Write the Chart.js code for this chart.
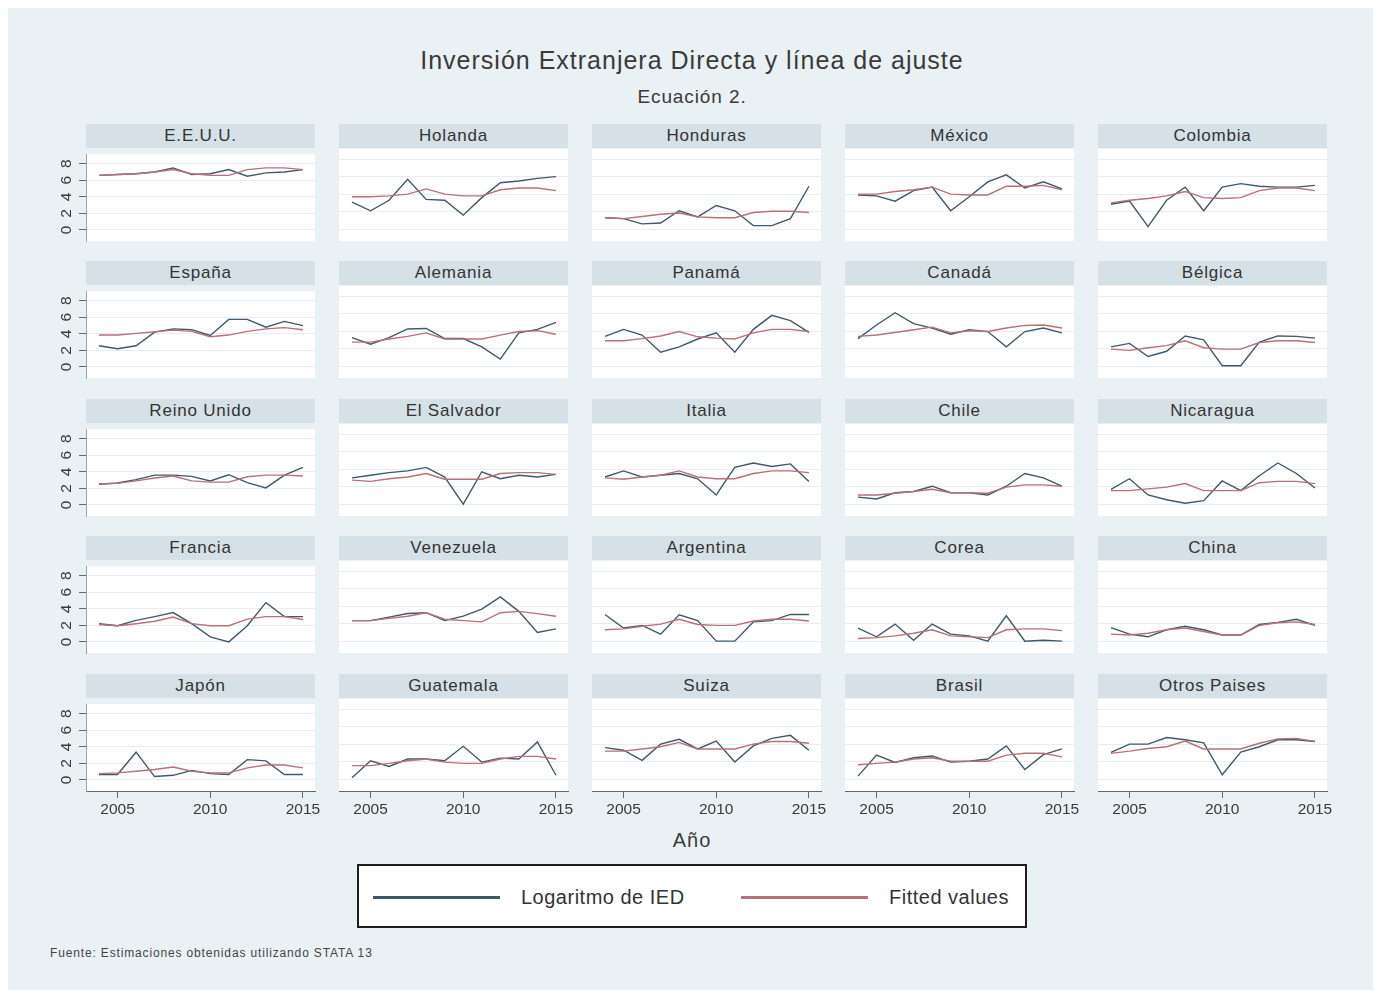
<!DOCTYPE html>
<html>
<head>
<meta charset="utf-8">
<script src="https://cdn.jsdelivr.net/npm/chart.js@4.4.1/dist/chart.umd.min.js"></script>
<style>
  html, body { margin: 0; padding: 0; background: #ffffff; }
  #page { position: relative; width: 1381px; height: 996px; overflow: hidden; background: #ffffff;
          font-family: "Liberation Sans", Arial, sans-serif; }
  #frame { position: absolute; left: 8px; top: 8px; width: 1365px; height: 982px; background: #eaf1f4; }
  .txt { position: absolute; white-space: nowrap; color: #3a3a3a; text-align: center; }
  .hdr { position: absolute; background: #d5e0e7; color: #333; font-size: 17px; letter-spacing: 0.8px;
         text-align: center; line-height: 24px; height: 24px; }
  .panel { position: absolute; }
  #legend { position: absolute; left: 357px; top: 864px; width: 666px; height: 60px;
            border: 2px solid #1e1e1e; background: #ffffff; }
  .lgline { position: absolute; height: 3px; }
  .lgtext { position: absolute; font-size: 20px; letter-spacing: 0.5px; color: #333; line-height: 22px; }
</style>
</head>
<body>
<div id="page">
  <div id="frame"></div>
  <div class="txt" style="left:0;width:1384px;top:45px;font-size:25px;letter-spacing:1px;line-height:30px;">Inversión Extranjera Directa y línea de ajuste</div>
  <div class="txt" style="left:0;width:1384px;top:85px;font-size:19px;letter-spacing:0.9px;line-height:24px;">Ecuación 2.</div>
  <div class="txt" style="left:0;width:1384px;top:828px;font-size:20px;letter-spacing:1px;line-height:24px;">Año</div>
  <div id="legend">
    <div class="lgline" style="left:14px;top:30px;width:127px;background:#3d5a6c;"></div>
    <div class="lgtext" style="left:162px;top:20px;">Logaritmo de IED</div>
    <div class="lgline" style="left:382px;top:30px;width:127px;background:#b8707a;"></div>
    <div class="lgtext" style="left:530px;top:20px;">Fitted values</div>
  </div>
  <div class="txt" style="left:50px;top:946px;font-size:12px;letter-spacing:0.85px;line-height:14px;color:#444;text-align:left;">Fuente: Estimaciones obtenidas utilizando STATA 13</div>
</div>

<script>
// Years and axis ticks shared by every panel
const years = [2004, 2005, 2006, 2007, 2008, 2009, 2010, 2011, 2012, 2013, 2014, 2015];
const xTickValues = [2005, 2010, 2015];
const yTickValues = [0, 2, 4, 6, 8];

// Log of FDI (ied*) and fitted values (fit*) by country, 2004-2015
const iedEEUU = [6.6, 6.7, 6.8, 7.0, 7.5, 6.7, 6.8, 7.3, 6.5, 6.9, 7.0, 7.3];
const fitEEUU = [6.6, 6.7, 6.8, 7.0, 7.3, 6.8, 6.6, 6.6, 7.3, 7.5, 7.5, 7.3];
const iedHolanda = [3.1, 2.1, 3.3, 5.7, 3.4, 3.3, 1.6, 3.6, 5.3, 5.5, 5.8, 6.0];
const fitHolanda = [3.7, 3.7, 3.8, 4.0, 4.6, 4.0, 3.8, 3.8, 4.5, 4.7, 4.7, 4.4];
const iedHonduras = [1.3, 1.2, 0.6, 0.7, 2.1, 1.4, 2.7, 2.1, 0.4, 0.4, 1.2, 4.9];
const fitHonduras = [1.3, 1.2, 1.45, 1.7, 1.85, 1.4, 1.3, 1.3, 1.9, 2.05, 2.05, 1.9];
const iedMexico = [3.9, 3.8, 3.2, 4.4, 4.8, 2.1, 3.7, 5.4, 6.2, 4.7, 5.4, 4.6];
const fitMexico = [4.0, 4.0, 4.3, 4.5, 4.8, 4.0, 3.9, 3.9, 4.9, 4.9, 5.0, 4.5];
const iedColombia = [2.85, 3.2, 0.3, 3.3, 4.8, 2.1, 4.8, 5.2, 4.9, 4.8, 4.8, 5.0];
const fitColombia = [3.0, 3.3, 3.5, 3.8, 4.3, 3.6, 3.5, 3.6, 4.4, 4.7, 4.7, 4.4];
const iedEspana = [2.55, 2.2, 2.55, 4.2, 4.6, 4.5, 3.8, 5.75, 5.75, 4.8, 5.5, 5.0];
const fitEspana = [3.85, 3.85, 4.05, 4.25, 4.45, 4.3, 3.65, 3.85, 4.3, 4.6, 4.75, 4.5];
const iedAlemania = [3.25, 2.5, 3.25, 4.25, 4.3, 3.15, 3.15, 2.2, 0.8, 3.8, 4.2, 5.0];
const fitAlemania = [2.75, 2.75, 3.1, 3.4, 3.8, 3.1, 3.1, 3.1, 3.55, 3.95, 4.05, 3.65];
const iedPanama = [3.4, 4.2, 3.55, 1.6, 2.2, 3.1, 3.8, 1.6, 4.2, 5.8, 5.2, 3.85];
const fitPanama = [2.9, 2.9, 3.15, 3.45, 3.95, 3.35, 3.2, 3.1, 3.8, 4.2, 4.2, 3.95];
const iedCanada = [3.15, 4.7, 6.1, 4.85, 4.35, 3.65, 4.15, 3.95, 2.2, 3.95, 4.35, 3.8];
const fitCanada = [3.4, 3.55, 3.85, 4.15, 4.45, 3.8, 4.05, 3.95, 4.35, 4.65, 4.7, 4.35];
const iedBelgica = [2.2, 2.6, 1.1, 1.7, 3.45, 3.0, 0.05, 0.05, 2.75, 3.45, 3.4, 3.2];
const fitBelgica = [1.95, 1.8, 2.1, 2.35, 2.9, 2.1, 1.95, 1.95, 2.7, 2.9, 2.9, 2.7];
const iedReinoUnido = [2.5, 2.65, 3.05, 3.6, 3.6, 3.45, 2.9, 3.65, 2.7, 2.05, 3.6, 4.55];
const fitReinoUnido = [2.55, 2.6, 2.9, 3.25, 3.5, 2.9, 2.75, 2.75, 3.4, 3.6, 3.6, 3.5];
const iedElSalvador = [3.0, 3.3, 3.6, 3.8, 4.2, 3.1, 0.0, 3.7, 2.9, 3.3, 3.1, 3.4];
const fitElSalvador = [2.75, 2.6, 2.9, 3.1, 3.5, 2.85, 2.85, 2.85, 3.5, 3.6, 3.6, 3.4];
const iedItalia = [3.1, 3.8, 3.1, 3.3, 3.5, 2.9, 1.05, 4.2, 4.7, 4.3, 4.6, 2.6];
const fitItalia = [3.0, 2.85, 3.1, 3.3, 3.8, 3.1, 2.9, 2.9, 3.5, 3.8, 3.8, 3.6];
const iedChile = [0.8, 0.6, 1.3, 1.45, 2.05, 1.3, 1.3, 1.05, 2.05, 3.5, 3.0, 2.05];
const fitChile = [1.05, 1.05, 1.25, 1.45, 1.7, 1.3, 1.3, 1.25, 1.95, 2.2, 2.2, 2.05];
const iedNicaragua = [1.7, 2.9, 1.05, 0.5, 0.1, 0.4, 2.65, 1.55, 3.25, 4.7, 3.5, 1.85];
const fitNicaragua = [1.55, 1.55, 1.75, 1.95, 2.35, 1.55, 1.55, 1.55, 2.45, 2.6, 2.6, 2.35];
const iedFrancia = [2.2, 1.95, 2.6, 3.05, 3.55, 2.2, 0.6, 0.0, 1.95, 4.75, 3.05, 3.05];
const fitFrancia = [2.1, 1.95, 2.2, 2.5, 3.0, 2.2, 1.95, 1.95, 2.75, 3.05, 3.05, 2.7];
const iedVenezuela = [2.35, 2.35, 2.75, 3.15, 3.25, 2.35, 2.85, 3.65, 5.05, 3.4, 1.0, 1.4];
const fitVenezuela = [2.35, 2.35, 2.6, 2.85, 3.25, 2.5, 2.35, 2.2, 3.25, 3.4, 3.15, 2.85];
const iedArgentina = [3.05, 1.5, 1.8, 0.8, 3.0, 2.35, 0.0, 0.0, 2.2, 2.35, 3.05, 3.05];
const fitArgentina = [1.3, 1.4, 1.7, 1.95, 2.5, 1.9, 1.8, 1.8, 2.3, 2.5, 2.5, 2.3];
const iedCorea = [1.5, 0.5, 1.95, 0.1, 1.95, 0.8, 0.6, 0.0, 2.9, 0.0, 0.1, 0.0];
const fitCorea = [0.3, 0.4, 0.6, 0.9, 1.3, 0.6, 0.5, 0.4, 1.3, 1.4, 1.4, 1.2];
const iedChina = [1.55, 0.8, 0.5, 1.3, 1.7, 1.3, 0.7, 0.7, 1.9, 2.15, 2.5, 1.8];
const fitChina = [0.8, 0.7, 0.9, 1.3, 1.5, 1.1, 0.7, 0.7, 1.8, 2.1, 2.2, 1.9];
const iedJapon = [0.65, 0.65, 3.35, 0.4, 0.55, 1.15, 0.75, 0.65, 2.45, 2.3, 0.65, 0.65];
const fitJapon = [0.75, 0.85, 1.05, 1.25, 1.55, 1.05, 0.85, 0.85, 1.45, 1.8, 1.8, 1.45];
const iedGuatemala = [0.15, 2.1, 1.45, 2.3, 2.3, 2.1, 3.75, 1.95, 2.4, 2.3, 4.25, 0.45];
const fitGuatemala = [1.55, 1.55, 1.8, 2.1, 2.3, 1.95, 1.8, 1.8, 2.3, 2.6, 2.6, 2.3];
const iedSuiza = [3.6, 3.3, 2.15, 4.0, 4.55, 3.45, 4.35, 1.95, 3.8, 4.65, 5.0, 3.3];
const fitSuiza = [3.2, 3.2, 3.45, 3.7, 4.2, 3.45, 3.45, 3.45, 4.0, 4.3, 4.3, 4.1];
const iedBrasil = [0.35, 2.75, 1.9, 2.45, 2.65, 1.95, 2.05, 2.3, 3.8, 1.1, 2.8, 3.45];
const fitBrasil = [1.65, 1.8, 1.95, 2.3, 2.45, 2.05, 2.05, 2.05, 2.75, 2.95, 2.95, 2.55];
const iedOtros = [3.05, 4.0, 4.0, 4.75, 4.5, 4.15, 0.5, 3.1, 3.7, 4.5, 4.5, 4.3];
const fitOtros = [2.95, 3.2, 3.5, 3.7, 4.35, 3.45, 3.45, 3.45, 4.1, 4.6, 4.65, 4.3];

// Panel order, row by row
const panels = [
  ["E.E.U.U.", iedEEUU, fitEEUU], ["Holanda", iedHolanda, fitHolanda], ["Honduras", iedHonduras, fitHonduras],
  ["México", iedMexico, fitMexico], ["Colombia", iedColombia, fitColombia],
  ["España", iedEspana, fitEspana], ["Alemania", iedAlemania, fitAlemania], ["Panamá", iedPanama, fitPanama],
  ["Canadá", iedCanada, fitCanada], ["Bélgica", iedBelgica, fitBelgica],
  ["Reino Unido", iedReinoUnido, fitReinoUnido], ["El Salvador", iedElSalvador, fitElSalvador], ["Italia", iedItalia, fitItalia],
  ["Chile", iedChile, fitChile], ["Nicaragua", iedNicaragua, fitNicaragua],
  ["Francia", iedFrancia, fitFrancia], ["Venezuela", iedVenezuela, fitVenezuela], ["Argentina", iedArgentina, fitArgentina],
  ["Corea", iedCorea, fitCorea], ["China", iedChina, fitChina],
  ["Japón", iedJapon, fitJapon], ["Guatemala", iedGuatemala, fitGuatemala], ["Suiza", iedSuiza, fitSuiza],
  ["Brasil", iedBrasil, fitBrasil], ["Otros Paises", iedOtros, fitOtros]
];

// Grid geometry
const colLeft = [86, 339, 592, 845, 1098];
const rowTop = [149, 286, 424, 561, 699];
const plotW = 229, plotH = 92;
const padL = 60, padR = 30, padT = 12, axisH = 30;

const IED_COLOR = '#3d5a6c';
const FIT_COLOR = '#b8707a';
const FONT = '"Liberation Sans", Arial, sans-serif';

const plotBg = {
  id: 'plotBg',
  beforeDraw(chart) {
    const { ctx, chartArea: a } = chart;
    ctx.save();
    ctx.fillStyle = '#ffffff';
    ctx.fillRect(a.left, a.top, a.right - a.left, a.bottom - a.top);
    ctx.restore();
  }
};

const page = document.getElementById('page');
Chart.defaults.font.family = FONT;
Chart.defaults.animation = false;

panels.forEach((p, i) => {
  const r = Math.floor(i / 5), c = i % 5;
  const firstCol = c === 0, lastRow = r === 4;

  const hdr = document.createElement('div');
  hdr.className = 'hdr';
  hdr.style.left = colLeft[c] + 'px';
  hdr.style.top = (rowTop[r] - 25) + 'px';
  hdr.style.width = plotW + 'px';
  hdr.textContent = p[0];
  page.appendChild(hdr);

  const box = document.createElement('div');
  box.className = 'panel';
  const w = plotW + padL + padR, h = plotH + padT + axisH;
  box.style.left = (colLeft[c] - padL) + 'px';
  box.style.top = (rowTop[r] - padT) + 'px';
  box.style.width = w + 'px';
  box.style.height = h + 'px';
  const cv = document.createElement('canvas');
  box.appendChild(cv);
  page.appendChild(box);

  new Chart(cv, {
    type: 'line',
    data: {
      datasets: [
        { label: 'Logaritmo de IED', data: years.map((y, k) => ({ x: y, y: p[1][k] })),
          borderColor: IED_COLOR, borderWidth: 1.4, pointRadius: 0, tension: 0, order: 1 },
        { label: 'Fitted values', data: years.map((y, k) => ({ x: y, y: p[2][k] })),
          borderColor: FIT_COLOR, borderWidth: 1.4, pointRadius: 0, tension: 0, order: 0 }
      ]
    },
    options: {
      responsive: true,
      maintainAspectRatio: false,
      animation: false,
      layout: { padding: { left: 0, right: padR, top: padT, bottom: 0 } },
      plugins: { legend: { display: false }, tooltip: { enabled: false }, title: { display: false } },
      scales: {
        x: {
          type: 'linear', min: 2003.3, max: 2015.65,
          afterBuildTicks: s => { s.ticks = xTickValues.map(v => ({ value: v })); },
          afterFit: s => { s.height = axisH; },
          grid: { drawOnChartArea: false, drawTicks: lastRow, tickLength: 7, tickColor: '#666' },
          border: { display: lastRow, color: '#666', width: 1 },
          ticks: { display: lastRow, color: '#3a3a3a', font: { size: 15.5 }, padding: 2,
                   maxRotation: 0, minRotation: 0, callback: v => String(v) }
        },
        y: {
          type: 'linear', min: -1.35, max: 9.15,
          afterBuildTicks: s => { s.ticks = yTickValues.map(v => ({ value: v })); },
          afterFit: s => { s.width = padL; },
          grid: { color: '#e7edf0', lineWidth: 1, drawTicks: firstCol, tickLength: 7, tickColor: '#666' },
          border: { display: firstCol, color: '#9aa5ab', width: 1 },
          ticks: { display: firstCol, color: '#3a3a3a', font: { size: 15.5 }, padding: 8,
                   minRotation: 90, maxRotation: 90, crossAlign: 'center', callback: v => String(v) }
        }
      }
    },
    plugins: [plotBg]
  });
});
</script>
</body>
</html>
